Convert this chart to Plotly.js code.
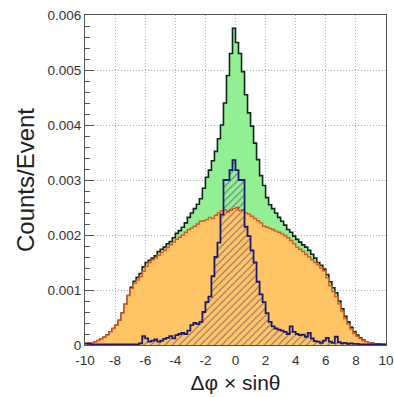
<!DOCTYPE html>
<html>
<head>
<meta charset="utf-8">
<script src="https://cdn.plot.ly/plotly-3.0.1.min.js"></script>
<style>html,body{margin:0;padding:0;background:#fff;}#chart{width:394px;height:397px;}</style>
</head>
<body>
<div id="chart"></div>
<script>
// Histogram binning: 100 bins of width 0.2 from -10 to 10
const binLow = -10;
const binWidth = 0.2;

// Total (green) counts/event per bin
const totalCounts = [
  0.00002,0.00003,0.00004,0.00006,0.00008,0.00011,0.00014,0.00018,0.00024,0.00030,
  0.00036,0.00045,0.00058,0.00074,0.00090,0.00105,0.00116,0.00123,0.00130,0.00142,
  0.00150,0.00154,0.00158,0.00162,0.00170,0.00174,0.00178,0.00184,0.00188,0.00195,
  0.00203,0.00208,0.00214,0.00222,0.00232,0.00240,0.00248,0.00256,0.00266,0.00285,
  0.00305,0.00318,0.00335,0.00352,0.00375,0.00400,0.00440,0.00490,0.00530,0.00576,
  0.00550,0.00530,0.00497,0.00455,0.00422,0.00398,0.00367,0.00337,0.00308,0.00290,
  0.00268,0.00255,0.00248,0.00240,0.00232,0.00225,0.00218,0.00210,0.00205,0.00198,
  0.00192,0.00187,0.00182,0.00178,0.00172,0.00165,0.00158,0.00150,0.00145,0.00138,
  0.00128,0.00115,0.00104,0.00095,0.00080,0.00066,0.00052,0.00042,0.00032,0.00024,
  0.00018,0.00013,0.00009,0.00006,0.00004,0.00003,0.00002,0.00002,0.00001,0.00001
];

// Orange component
const orangeCounts = [
  0.00002,0.00003,0.00004,0.00006,0.00008,0.00011,0.00014,0.00018,0.00024,0.00030,
  0.00036,0.00045,0.00058,0.00074,0.00090,0.00103,0.00112,0.00118,0.00124,0.00134,
  0.00143,0.00150,0.00155,0.00158,0.00163,0.00168,0.00172,0.00177,0.00182,0.00187,
  0.00192,0.00196,0.00200,0.00205,0.00210,0.00213,0.00216,0.00220,0.00225,0.00226,
  0.00228,0.00232,0.00230,0.00236,0.00240,0.00244,0.00246,0.00242,0.00245,0.00248,
  0.00250,0.00244,0.00246,0.00240,0.00238,0.00234,0.00230,0.00226,0.00222,0.00216,
  0.00214,0.00212,0.00210,0.00207,0.00205,0.00202,0.00199,0.00195,0.00190,0.00184,
  0.00178,0.00174,0.00170,0.00165,0.00160,0.00155,0.00150,0.00146,0.00140,0.00135,
  0.00122,0.00108,0.00097,0.00088,0.00075,0.00061,0.00048,0.00038,0.00029,0.00021,
  0.00016,0.00012,0.00008,0.00006,0.00004,0.00003,0.00002,0.00002,0.00001,0.00001
];

// Hatched (navy) component
const hatchedCounts = [
  0.00003,0.00002,0.00001,0.00001,0.00001,0.00001,0.00001,0.00001,0.00001,0.00001,
  0.00001,0.00001,0.00001,0.00001,0.00001,0.00001,0.00001,0.00001,0.00003,0.00016,
  0.00012,0.00006,0.00008,0.00010,0.00006,0.00008,0.00011,0.00013,0.00016,0.00012,
  0.00018,0.00020,0.00022,0.00020,0.00026,0.00036,0.00040,0.00038,0.00042,0.00060,
  0.00078,0.00088,0.00125,0.00160,0.00186,0.00237,0.00300,0.00300,0.00318,0.00336,
  0.00318,0.00300,0.00300,0.00215,0.00198,0.00172,0.00150,0.00115,0.00092,0.00078,
  0.00058,0.00042,0.00034,0.00030,0.00028,0.00026,0.00024,0.00020,0.00034,0.00024,
  0.00020,0.00018,0.00019,0.00015,0.00022,0.00012,0.00007,0.00006,0.00004,0.00008,
  0.00013,0.00006,0.00004,0.00015,0.00005,0.00003,0.00004,0.00002,0.00003,0.00002,
  0.00002,0.00001,0.00001,0.00001,0.00001,0.00001,0.00001,0.00001,0.00001,0.00001
];

const yTickVals = [0, 0.001, 0.002, 0.003, 0.004, 0.005, 0.006];
const yTickText = ["0", "0.001", "0.002", "0.003", "0.004", "0.005", "0.006"];
const xTickVals = [-10, -8, -6, -4, -2, 0, 2, 4, 6, 8, 10];
const xTickText = ["-10", "-8", "-6", "-4", "-2", "0", "2", "4", "6", "8", "10"];

function stepXY(vals) {
  const xs = [], ys = [];
  for (let i = 0; i < vals.length; i++) {
    xs.push(binLow + i * binWidth);
    ys.push(vals[i]);
  }
  xs.push(binLow + vals.length * binWidth);
  ys.push(vals[vals.length - 1]);
  return {xs, ys};
}

const g = stepXY(totalCounts);
const o = stepXY(orangeCounts);
const h = stepXY(hatchedCounts);

const traces = [
  {x: g.xs, y: g.ys, type: 'scatter', mode: 'lines', line: {shape: 'hv', color: '#10261a', width: 1.6},
   fill: 'tozeroy', fillcolor: '#93ef93', hoverinfo: 'skip'},
  {x: o.xs, y: o.ys, type: 'scatter', mode: 'lines', line: {shape: 'hv', color: '#e2561e', width: 1.4},
   fill: 'tozeroy', fillcolor: '#ffc466', hoverinfo: 'skip'},
  {x: h.xs, y: h.ys, type: 'scatter', mode: 'lines', line: {shape: 'hv', color: '#1b1b72', width: 1.8},
   fill: 'tozeroy', fillcolor: 'rgba(0,0,0,0)',
   fillpattern: {shape: '/', fgcolor: '#2a2a6a', bgcolor: 'rgba(0,0,0,0)', size: 5, solidity: 0.2, fgopacity: 0.6},
   hoverinfo: 'skip'}
];

const fontFam = 'Liberation Sans, Arial, Helvetica, sans-serif';
const layout = {
  width: 394, height: 397,
  margin: {l: 85, r: 8, t: 15, b: 52},
  paper_bgcolor: '#ffffff', plot_bgcolor: '#ffffff',
  showlegend: false,
  font: {family: fontFam, color: '#333'},
  xaxis: {
    range: [-10, 10], tickmode: 'array', tickvals: xTickVals, ticktext: xTickText,
    showgrid: true, gridcolor: '#b0b0b0', griddash: '1px,2px', gridwidth: 1,
    zeroline: false, showline: true, linecolor: '#555', linewidth: 1, mirror: true,
    ticks: '', ticklabelstandoff: 3, tickfont: {size: 13.5, color: '#333', family: fontFam},
    title: {text: 'Δφ × sinθ', font: {size: 21, color: '#222', family: fontFam}, standoff: 8}
  },
  yaxis: {
    range: [0, 0.006], tickmode: 'array', tickvals: yTickVals, ticktext: yTickText,
    showgrid: true, gridcolor: '#b0b0b0', griddash: '1px,2px', gridwidth: 1,
    zeroline: false, showline: true, linecolor: '#555', linewidth: 1, mirror: true,
    ticks: 'inside', ticklen: 9, tickcolor: '#555',
    minor: {dtick: 0.0002, tick0: 0, ticks: 'inside', ticklen: 5, tickcolor: '#555', showgrid: false},
    tickfont: {size: 13.5, color: '#333', family: fontFam},
    title: {text: 'Counts/Event', font: {size: 24, color: '#222', family: fontFam}, standoff: 6}
  }
};

Plotly.newPlot('chart', traces, layout, {staticPlot: true, displayModeBar: false});
</script>
</body>
</html>
